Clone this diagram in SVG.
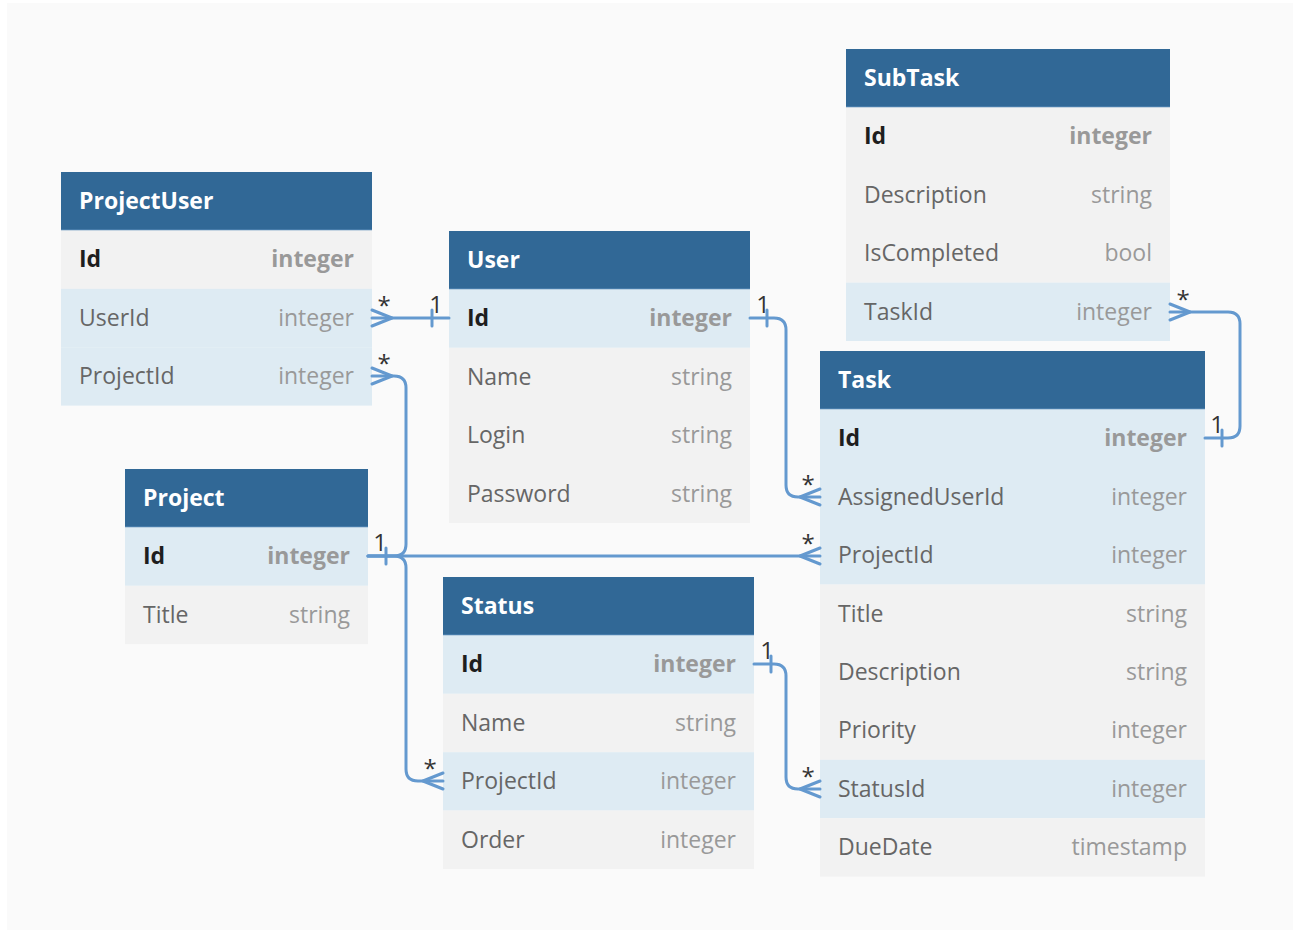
<svg xmlns="http://www.w3.org/2000/svg" width="1301" height="932" viewBox="0 0 1301 932">
<style>
text{font-family:"Open Sans","Noto Sans","DejaVu Sans",sans-serif;font-size:23px}
.hd{fill:#316896}
.hl{stroke:#5d8fbc;stroke-width:1}
.ttl{fill:#ffffff;font-weight:bold}
.g{fill:#f2f2f2}
.b{fill:#deebf3}
.n{fill:#666666}
.k{fill:#1e1e1e;font-weight:bold}
.t{fill:#999999;text-anchor:end}
.kt{fill:#999999;font-weight:bold;text-anchor:end}
.c{fill:none;stroke:#6499cf;stroke-width:3;stroke-linecap:round;stroke-linejoin:round}
.lb{fill:#333333;text-anchor:middle;font-size:24px}
</style>
<rect x="7" y="3" width="1286" height="927" fill="#fafafa"/>

<g id="ProjectUser">
<rect class="hd" x="61" y="172" width="311" height="58.4"/>
<line class="hl" x1="61" y1="230" x2="372" y2="230"/>
<text class="ttl" x="79" y="209">ProjectUser</text>
<rect class="g" x="61" y="230.4" width="311" height="58.4"/>
<text class="k" x="79" y="267.4">Id</text><text class="kt" x="354" y="267.4">integer</text>
<rect class="b" x="61" y="288.8" width="311" height="58.4"/>
<text class="n" x="79" y="325.8">UserId</text><text class="t" x="354" y="325.8">integer</text>
<rect class="b" x="61" y="347.2" width="311" height="58.4"/>
<text class="n" x="79" y="384.2">ProjectId</text><text class="t" x="354" y="384.2">integer</text>
</g>

<g id="User">
<rect class="hd" x="449" y="231" width="301" height="58.4"/>
<line class="hl" x1="449" y1="289" x2="750" y2="289"/>
<text class="ttl" x="467" y="268">User</text>
<rect class="b" x="449" y="289.4" width="301" height="58.4"/>
<text class="k" x="467" y="326.4">Id</text><text class="kt" x="732" y="326.4">integer</text>
<rect class="g" x="449" y="347.8" width="301" height="175.2"/>
<text class="n" x="467" y="384.8">Name</text><text class="t" x="732" y="384.8">string</text>
<text class="n" x="467" y="443.2">Login</text><text class="t" x="732" y="443.2">string</text>
<text class="n" x="467" y="501.6">Password</text><text class="t" x="732" y="501.6">string</text>
</g>

<g id="SubTask">
<rect class="hd" x="846" y="49" width="324" height="58.4"/>
<line class="hl" x1="846" y1="107" x2="1170" y2="107"/>
<text class="ttl" x="864" y="86">SubTask</text>
<rect class="g" x="846" y="107.4" width="324" height="175.2"/>
<text class="k" x="864" y="144.4">Id</text><text class="kt" x="1152" y="144.4">integer</text>
<text class="n" x="864" y="202.8">Description</text><text class="t" x="1152" y="202.8">string</text>
<text class="n" x="864" y="261.2">IsCompleted</text><text class="t" x="1152" y="261.2">bool</text>
<rect class="b" x="846" y="282.6" width="324" height="58.4"/>
<text class="n" x="864" y="319.6">TaskId</text><text class="t" x="1152" y="319.6">integer</text>
</g>

<g id="Task">
<rect class="hd" x="820" y="351" width="385" height="58.4"/>
<line class="hl" x1="820" y1="409" x2="1205" y2="409"/>
<text class="ttl" x="838" y="388">Task</text>
<rect class="b" x="820" y="409.4" width="385" height="175.2"/>
<text class="k" x="838" y="446.4">Id</text><text class="kt" x="1187" y="446.4">integer</text>
<text class="n" x="838" y="504.8">AssignedUserId</text><text class="t" x="1187" y="504.8">integer</text>
<text class="n" x="838" y="563.2">ProjectId</text><text class="t" x="1187" y="563.2">integer</text>
<rect class="g" x="820" y="584.6" width="385" height="175.2"/>
<text class="n" x="838" y="621.6">Title</text><text class="t" x="1187" y="621.6">string</text>
<text class="n" x="838" y="680">Description</text><text class="t" x="1187" y="680">string</text>
<text class="n" x="838" y="738.4">Priority</text><text class="t" x="1187" y="738.4">integer</text>
<rect class="b" x="820" y="759.8" width="385" height="58.4"/>
<text class="n" x="838" y="796.8">StatusId</text><text class="t" x="1187" y="796.8">integer</text>
<rect class="g" x="820" y="818.2" width="385" height="58.4"/>
<text class="n" x="838" y="855.2">DueDate</text><text class="t" x="1187" y="855.2">timestamp</text>
</g>

<g id="Project">
<rect class="hd" x="125" y="469" width="243" height="58.4"/>
<line class="hl" x1="125" y1="527" x2="368" y2="527"/>
<text class="ttl" x="143" y="506">Project</text>
<rect class="b" x="125" y="527.4" width="243" height="58.4"/>
<text class="k" x="143" y="564.4">Id</text><text class="kt" x="350" y="564.4">integer</text>
<rect class="g" x="125" y="585.8" width="243" height="58.4"/>
<text class="n" x="143" y="622.8">Title</text><text class="t" x="350" y="622.8">string</text>
</g>

<g id="Status">
<rect class="hd" x="443" y="577" width="311" height="58.4"/>
<line class="hl" x1="443" y1="635" x2="754" y2="635"/>
<text class="ttl" x="461" y="614">Status</text>
<rect class="b" x="443" y="635.4" width="311" height="58.4"/>
<text class="k" x="461" y="672.4">Id</text><text class="kt" x="736" y="672.4">integer</text>
<rect class="g" x="443" y="693.8" width="311" height="58.4"/>
<text class="n" x="461" y="730.8">Name</text><text class="t" x="736" y="730.8">string</text>
<rect class="b" x="443" y="752.2" width="311" height="58.4"/>
<text class="n" x="461" y="789.2">ProjectId</text><text class="t" x="736" y="789.2">integer</text>
<rect class="g" x="443" y="810.6" width="311" height="58.4"/>
<text class="n" x="461" y="847.6">Order</text><text class="t" x="736" y="847.6">integer</text>
</g>

<g id="connectors">
<path class="c" d="M372,318 H449"/>
<path class="c" d="M372,310 L392,318 L372,326 M432,310 V326"/>
<text class="lb" x="384" y="314">*</text><text class="lb" x="436" y="313">1</text>

<path class="c" d="M372,376 H394 Q406,376 406,388 V544 Q406,556 394,556 H368"/>
<path class="c" d="M372,368 L392,376 L372,384"/>
<text class="lb" x="384" y="372">*</text>

<path class="c" d="M368,556 H394 Q406,556 406,568 V769 Q406,781 418,781 H443"/>
<path class="c" d="M443,773 L423,781 L443,789"/>
<text class="lb" x="430" y="777">*</text>

<path class="c" d="M368,556 H820"/>
<path class="c" d="M820,548 L800,556 L820,564 M386,548 V564"/>
<text class="lb" x="380" y="551">1</text><text class="lb" x="808" y="552">*</text>

<path class="c" d="M750,318 H774 Q786,318 786,330 V485 Q786,497 798,497 H820"/>
<path class="c" d="M767,310 V326 M820,489 L800,497 L820,505"/>
<text class="lb" x="763" y="313">1</text><text class="lb" x="808" y="493">*</text>

<path class="c" d="M754,664 H774 Q786,664 786,676 V777 Q786,789 798,789 H820"/>
<path class="c" d="M771,656 V672 M820,781 L800,789 L820,797"/>
<text class="lb" x="767" y="659">1</text><text class="lb" x="808" y="785">*</text>

<path class="c" d="M1170,312 H1228 Q1240,312 1240,324 V426 Q1240,438 1228,438 H1205"/>
<path class="c" d="M1170,304 L1190,312 L1170,320 M1222,430 V446"/>
<text class="lb" x="1183" y="308">*</text><text class="lb" x="1217" y="433">1</text>
</g>
</svg>
